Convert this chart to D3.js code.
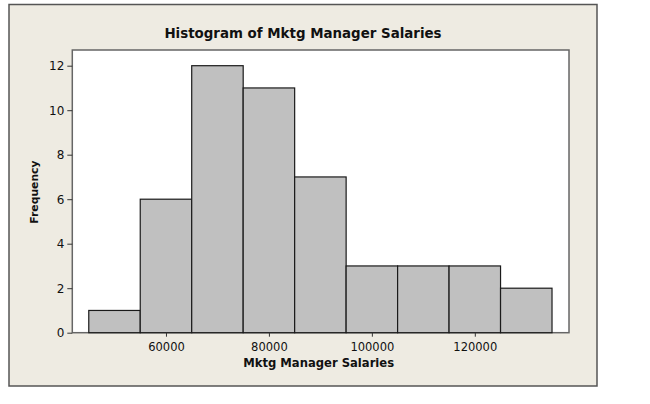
<!DOCTYPE html>
<html>
<head>
<meta charset="utf-8">
<script src="https://cdn.jsdelivr.net/npm/d3@7"></script>
<style>
  body { margin: 0; background: #fff; }
  svg { display: block; }
  text { font-family: "DejaVu Sans", Verdana, sans-serif; fill: #111; }
</style>
</head>
<body>
<svg></svg>
<script>
// bin edges (salary) and counts
const binStarts = [45000, 55000, 65000, 75000, 85000, 95000, 105000, 115000, 125000]
const binWidth = 10000
const counts = [1, 6, 12, 11, 7, 3, 3, 3, 2]
const xTicks = [60000, 80000, 100000, 120000]
const yTicks = [0, 2, 4, 6, 8, 10, 12]

const width = 650
const height = 404

// outer grey panel and inner white plot area
const frame = { x: 9, y: 4.5, w: 588, h: 381.5 }
const margin = { top: 50, right: 81, bottom: 71.3, left: 72.3 }
const innerWidth = width - margin.left - margin.right
const innerHeight = height - margin.top - margin.bottom

const xScale = d3.scaleLinear()
    .domain([41800, 138300])
    .range([0, innerWidth])

const yScale = d3.scaleLinear()
    .domain([0, 12])
    .range([innerHeight, 15.7]) // 12 sits a bit below the top of the box

const svg = d3.select('svg')
    .attr('width', width)
    .attr('height', height)

svg.append('rect')
    .attr('x', frame.x)
    .attr('y', frame.y)
    .attr('width', frame.w)
    .attr('height', frame.h)
    .attr('fill', '#eeebe2')
    .attr('stroke', '#555')
    .attr('stroke-width', 1.5)

svg.append('text')
    .attr('x', frame.x + frame.w / 2)
    .attr('y', 37.5)
    .attr('text-anchor', 'middle')
    .attr('font-weight', 'bold')
    .style('font-size', '13.4px')
    .text('Histogram of Mktg Manager Salaries')

const g = svg.append('g')
    .attr('transform', `translate(${margin.left}, ${margin.top})`)

g.append('rect')
    .attr('width', innerWidth)
    .attr('height', innerHeight)
    .attr('fill', '#fff')
    .attr('stroke', '#666')
    .attr('stroke-width', 1.5)

g.selectAll('.bar')
    .data(counts)
    .enter()
    .append('rect')
        .attr('class', 'bar')
        .attr('x', (d, i) => xScale(binStarts[i]))
        .attr('width', (d, i) => xScale(binStarts[i] + binWidth) - xScale(binStarts[i]))
        .attr('y', d => yScale(d))
        .attr('height', d => innerHeight - yScale(d))
        .attr('fill', '#c0c0c0')
        .attr('stroke', '#1a1a1a')
        .attr('stroke-width', 1.2)

const xAxis = d3.axisBottom(xScale)
    .tickValues(xTicks)
    .tickFormat(d3.format('d'))
    .tickSize(4)
    .tickPadding(6)
    .tickSizeOuter(0)

const yAxis = d3.axisLeft(yScale)
    .tickValues(yTicks)
    .tickSize(5)
    .tickPadding(3)
    .tickSizeOuter(0)

const xAxisG = g.append('g')
    .attr('transform', `translate(0, ${innerHeight})`)
    .call(xAxis)
xAxisG.select('.domain').remove()
xAxisG.selectAll('text').style('font-size', '11.5px')

const yAxisG = g.append('g').call(yAxis)
yAxisG.select('.domain').remove()
yAxisG.selectAll('text').style('font-size', '12px')

g.selectAll('.tick line').attr('stroke', '#333')

// axis titles
g.append('text')
    .attr('x', innerWidth / 2 - 2)
    .attr('y', innerHeight + 34)
    .attr('text-anchor', 'middle')
    .attr('font-weight', 'bold')
    .style('font-size', '11.6px')
    .text('Mktg Manager Salaries')

g.append('text')
    .attr('transform', `translate(${38 - margin.left}, ${innerHeight / 2 + 0.7}) rotate(-90)`)
    .attr('text-anchor', 'middle')
    .attr('font-weight', 'bold')
    .style('font-size', '10.8px')
    .text('Frequency')
</script>
</body>
</html>
